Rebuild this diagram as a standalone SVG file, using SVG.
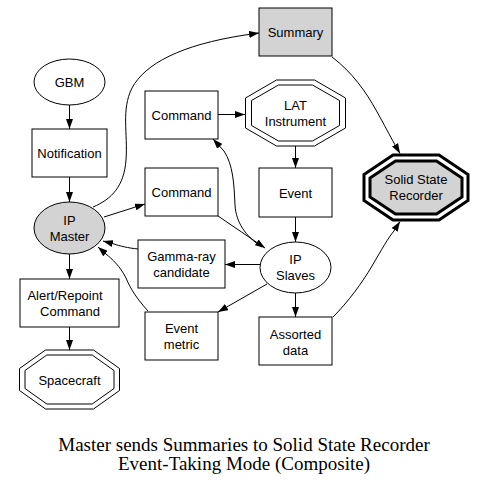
<svg xmlns="http://www.w3.org/2000/svg" width="487" height="488" viewBox="0 0 487 488">
<style>
.n{fill:#fff;stroke:#000;stroke-width:1}
.g{fill:#d3d3d3;stroke:#000;stroke-width:1}
.t{font-family:"Liberation Sans",Arial,sans-serif;font-size:13px;text-anchor:middle;fill:#000}
.e{fill:none;stroke:#000;stroke-width:1;marker-end:url(#ah)}
.title{font-family:"Liberation Serif","Times New Roman",serif;font-size:19px;text-anchor:middle;fill:#000}
</style>
<defs>
<marker id="ah" viewBox="0 0 10 7" refX="10" refY="3.5" markerWidth="10" markerHeight="7" markerUnits="userSpaceOnUse" orient="auto">
<path d="M0,0 L10,3.5 L0,7 Z" fill="#000"/>
</marker>
</defs>
<rect width="487" height="488" fill="#fff"/>
<g id="connectors">
<path class="e" d="M69.5,105 L69.5,129"/>
<path class="e" d="M69.5,177 L69.5,202"/>
<path class="e" d="M93,207 C112,199 124,186 126,160 C128,133 121,110 132,88 C145,64 180,45 245,35 L259,33"/>
<path class="e" d="M104,217 L145,204"/>
<path class="e" d="M218,114.5 L245,114.5"/>
<path class="e" d="M295.5,146 L295.5,168"/>
<path class="e" d="M295.5,217 L295.5,242"/>
<path class="e" d="M218,216 L265,248"/>
<path class="e" d="M262,247 C245,236 236,222 235,205 C234,183 233,165 224,151 L213,139"/>
<path class="e" d="M260,264.5 L225,264.5"/>
<path class="e" d="M138,249 C128,248 120,246 114,244 L103,241"/>
<path class="e" d="M148,311 C138,300 131,290 126,278 C120,266 112,259 106,254 L98,247"/>
<path class="e" d="M267,284 L218,312"/>
<path class="e" d="M295.5,293 L295.5,317"/>
<path class="e" d="M333,317 C348,302 362,283 372,266 C382,249 388,238 394,231 L400,221.5"/>
<path class="e" d="M332,57 C352,72 366,92 376,110 C385,126 390,136 394,143 L400,153.5"/>
<path class="e" d="M69.5,254 L69.5,279"/>
<path class="e" d="M69.5,327 L69.5,350"/>
</g>
<g id="gbm"><ellipse class="n" cx="69.5" cy="82" rx="35.5" ry="23"/><text class="t" x="69.5" y="87">GBM</text></g>
<g id="notification"><rect class="n" x="32" y="129" width="75" height="48"/><text class="t" x="69.5" y="158">Notification</text></g>
<g id="ipmaster"><ellipse class="g" cx="69.5" cy="228" rx="35.5" ry="26"/><text class="t" x="69.5" y="224.5">IP</text><text class="t" x="69.5" y="240.5">Master</text></g>
<g id="command1"><rect class="n" x="145" y="91" width="73" height="48"/><text class="t" x="181.5" y="120">Command</text></g>
<g id="command2"><rect class="n" x="145" y="168" width="73" height="48"/><text class="t" x="181.5" y="197">Command</text></g>
<g id="summary"><rect class="g" x="259" y="8" width="73" height="48"/><text class="t" x="295.5" y="37">Summary</text></g>
<g id="lat"><polygon class="n" points="276.5,80 314.5,80 345.5,98 345.5,128 314.5,146 276.5,146 245.5,128 245.5,98"/><polygon class="n" points="278.5,85 312.5,85 339.5,100.5 339.5,125.5 312.5,141 278.5,141 251.5,125.5 251.5,100.5"/><text class="t" x="295.5" y="109.5">LAT</text><text class="t" x="295.5" y="125.5">Instrument</text></g>
<g id="event"><rect class="n" x="259" y="168" width="73" height="49"/><text class="t" x="295.5" y="197.5">Event</text></g>
<g id="ssr"><polygon fill="#fff" stroke="#000" stroke-width="3" points="393,155 439,155 468,174.5 468,200.5 439,220 393,220 364,200.5 364,174.5"/><polygon fill="#d3d3d3" stroke="#000" stroke-width="3" points="395.5,161 436.5,161 462,178.1 462,196.9 436.5,214 395.5,214 370,196.9 370,178.1"/><text class="t" x="416" y="184">Solid State</text><text class="t" x="416" y="200">Recorder</text></g>
<g id="ipslaves"><ellipse class="n" cx="295.5" cy="267.5" rx="35.5" ry="25.5"/><text class="t" x="295.5" y="264">IP</text><text class="t" x="295.5" y="280">Slaves</text></g>
<g id="gamma"><rect class="n" x="138" y="240" width="87" height="48"/><text class="t" x="181.5" y="260.5">Gamma-ray</text><text class="t" x="181.5" y="276.5">candidate</text></g>
<g id="eventmetric"><rect class="n" x="145" y="312" width="73" height="48"/><text class="t" x="181.5" y="332.5">Event</text><text class="t" x="181.5" y="348.5">metric</text></g>
<g id="alert"><rect class="n" x="20" y="279" width="99" height="48"/><text class="t" x="65" y="299.5">Alert/Repoint</text><text class="t" x="70" y="315.5">Command</text></g>
<g id="assorted"><rect class="n" x="259" y="317" width="73" height="48"/><text class="t" x="295.5" y="338.5">Assorted</text><text class="t" x="295.5" y="354.5">data</text></g>
<g id="spacecraft"><polygon class="n" points="45.5,350 93.5,350 119.5,368.5 119.5,390.5 93.5,409 45.5,409 19.5,390.5 19.5,368.5"/><polygon class="n" points="46.8,355 92.2,355 114,370.5 114,388.5 92.2,404 46.8,404 25,388.5 25,370.5"/><text class="t" x="69.5" y="384.5">Spacecraft</text></g>
<text class="title" x="244" y="451">Master sends Summaries to Solid State Recorder</text>
<text class="title" x="244" y="470">Event-Taking Mode (Composite)</text>
</svg>
